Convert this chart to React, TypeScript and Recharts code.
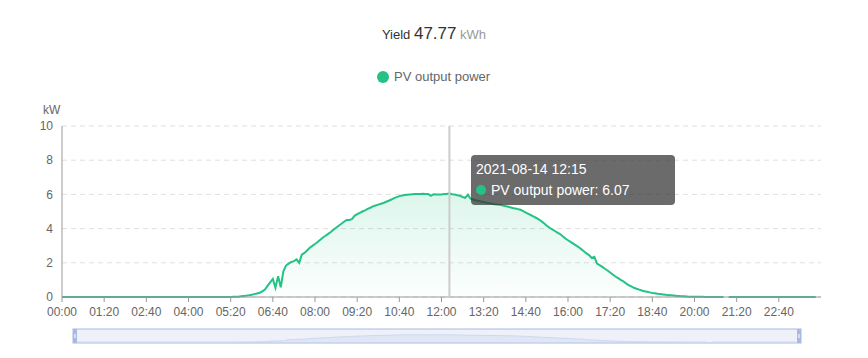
import { AreaChart, Area, XAxis, YAxis, CartesianGrid, Tooltip, Brush } from 'recharts'

const day = '2021-08-14'
const yieldKWh = 47.77
const seriesName = 'PV output power'
const stepMinutes = 5

// PV output power in kW, one row per hour, one value every 5 minutes (null = no sample)
const pvPower: (number | null)[] = [
  0, 0, 0, 0, 0, 0, 0, 0, 0, 0, 0, 0, // 00
  0, 0, 0, 0, 0, 0, 0, 0, 0, 0, 0, 0, // 01
  0, 0, 0, 0, 0, 0, 0, 0, 0, 0, 0, 0, // 02
  0, 0, 0, 0, 0, 0, 0, 0, 0, 0, 0, 0, // 03
  0, 0, 0, 0, 0, 0, 0, 0, 0, 0, 0, 0, // 04
  0, 0, 0, 0, 0, 0.01, 0.01, 0.02, 0.04, 0.06, 0.08, 0.1, // 05
  0.13, 0.17, 0.21, 0.25, 0.33, 0.44, 0.65, 0.85, 1.06, 0.54, 1.22, 0.57, // 06
  1.5, 1.84, 1.95, 2.05, 2.1, 2.2, 2.0, 2.48, 2.58, 2.72, 2.88, 2.99, // 07
  3.1, 3.22, 3.35, 3.48, 3.58, 3.69, 3.8, 3.93, 4.05, 4.17, 4.28, 4.4, // 08
  4.5, 4.5, 4.55, 4.75, 4.84, 4.92, 5.0, 5.07, 5.15, 5.22, 5.3, 5.35, // 09
  5.4, 5.45, 5.5, 5.57, 5.63, 5.7, 5.78, 5.84, 5.9, 5.93, 5.96, 5.98, // 10
  6.0, 6.01, 6.02, 6.03, 6.03, 6.04, 6.03, 6.02, 5.92, 6.01, 6.0, 6.0, // 11
  5.99, 6.02, 6.02, 6.07, 6.01, 5.99, 5.95, 5.92, 5.85, 5.8, 5.98, 5.75, // 12
  5.7, 5.66, 5.62, 5.58, 5.55, 5.52, 5.49, 5.46, 5.43, 5.41, 5.4, 5.36, // 13
  5.32, 5.29, 5.25, 5.21, 5.18, 5.14, 5.1, 5.02, 4.94, 4.86, 4.78, 4.7, // 14
  4.62, 4.53, 4.42, 4.3, 4.17, 4.05, 3.95, 3.86, 3.77, 3.68, 3.55, 3.42, // 15
  3.32, 3.22, 3.12, 3.02, 2.92, 2.8, 2.68, 2.55, 2.45, 2.28, 2.35, 1.95, // 16
  1.86, 1.76, 1.65, 1.55, 1.43, 1.32, 1.2, 1.1, 1.0, 0.92, 0.8, 0.7, // 17
  0.62, 0.54, 0.48, 0.43, 0.38, 0.34, 0.31, 0.27, 0.24, 0.22, 0.19, 0.17, // 18
  0.15, 0.13, 0.11, 0.1, 0.09, 0.07, 0.06, 0.05, 0.04, 0.03, 0.02, 0.02, // 19
  0.01, 0.01, 0.01, 0.01, 0, 0, 0, 0, 0, 0, 0, 0, // 20
  null, 0, 0, 0, 0, 0, 0, 0, 0, 0, 0, 0, // 21
  0, 0, 0, 0, 0, 0, 0, 0, 0, 0, 0, 0, // 22
  0, 0, 0, 0, 0, 0, 0, 0, 0, 0, 0, null, // 23
]

const tickLabels = [
  '00:00', '01:20', '02:40', '04:00', '05:20', '06:40', '08:00', '09:20', '10:40',
  '12:00', '13:20', '14:40', '16:00', '17:20', '18:40', '20:00', '21:20', '22:40',
]
const yTicks = [0, 2, 4, 6, 8, 10]
const tooltipTime = '12:15'

const green = '#23c285'
const font = '"Liberation Sans", Arial, sans-serif'

const toMinutes = (s: string) => {
  const [h, m] = s.split(':').map(Number)
  return h * 60 + m
}
const fmt = (m: number) =>
  `${String(Math.floor(m / 60)).padStart(2, '0')}:${String(m % 60).padStart(2, '0')}`

const data = pvPower.map((v, i) => ({ t: i * stepMinutes, v }))
const tickMinutes = tickLabels.map(toMinutes)
const activeIndex = data.findIndex((d) => d.t === toMinutes(tooltipTime))

function TipBox({ payload }: any) {
  const p = payload && payload[0] ? payload[0].payload : data[activeIndex]
  return (
    <div
      style={{
        background: 'rgba(50,50,50,0.72)',
        color: '#fff',
        borderRadius: 4,
        padding: '4px 8px 4px 5px',
        fontFamily: font,
        fontSize: 14,
        lineHeight: '21px',
        whiteSpace: 'nowrap',
        width: 191,
      }}
    >
      <div>{`${day} ${fmt(p.t)}`}</div>
      <div>
        <span
          style={{
            display: 'inline-block',
            width: 10,
            height: 10,
            borderRadius: 5,
            background: green,
            marginRight: 5,
          }}
        />
        {`${seriesName}: ${p.v}`}
      </div>
    </div>
  )
}

export default function App() {
  return (
    <div style={{ position: 'absolute', left: 0, top: 0, width: 868, height: 358, background: '#fff', fontFamily: font }}>
      <div style={{ position: 'absolute', top: 24, left: 0, width: 868, textAlign: 'center', color: '#333' }}>
        <span style={{ fontSize: 13 }}>Yield </span>
        <span style={{ fontSize: 17 }}>{yieldKWh}</span>
        <span style={{ fontSize: 13, color: '#999' }}> kWh</span>
      </div>
      <div style={{ position: 'absolute', top: 69, left: 377, display: 'flex', alignItems: 'center', color: '#666', fontSize: 13 }}>
        <span style={{ width: 12, height: 12, borderRadius: 6, background: green, display: 'inline-block', marginRight: 5 }} />
        {seriesName}
      </div>
      <div style={{ position: 'absolute', top: 103, left: 43, color: '#666', fontSize: 12 }}>kW</div>
      <AreaChart width={868} height={358} data={data} margin={{ top: 126, right: 47, bottom: 17, left: 22 }}>
        <defs>
          <linearGradient id="pvFill" x1="0" y1="0" x2="0" y2="1">
            <stop offset="0%" stopColor={green} stopOpacity={0.26} />
            <stop offset="100%" stopColor={green} stopOpacity={0.02} />
          </linearGradient>
        </defs>
        <CartesianGrid vertical={false} stroke="#e0e0e0" strokeDasharray="5 4" />
        <XAxis
          dataKey="t"
          type="number"
          domain={[0, 1440]}
          ticks={tickMinutes}
          tickFormatter={fmt}
          interval={0}
          height={30}
          tickSize={5}
          tickMargin={5}
          stroke="#999"
          tick={{ fill: '#666', fontSize: 12 }}
        />
        <YAxis
          domain={[0, 10]}
          ticks={yTicks}
          interval={0}
          width={40}
          tickSize={0}
          tickMargin={9}
          stroke="#999"
          tick={{ fill: '#666', fontSize: 12 }}
        />
        <Tooltip
          defaultIndex={activeIndex}
          active
          content={<TipBox />}
          position={{ x: 471, y: 155 }}
          cursor={{ stroke: '#ccc', strokeWidth: 2 }}
          isAnimationActive={false}
        />
        <Area
          type="linear"
          dataKey="v"
          name={seriesName}
          stroke={green}
          strokeWidth={2}
          fill="url(#pvFill)"
          dot={false}
          activeDot={false}
          isAnimationActive={false}
        />
        <Brush
          dataKey="t"
          x={73}
          y={329}
          width={728}
          height={14}
          travellerWidth={4}
          stroke="#a9b9e2"
          fill="#fff"
          tickFormatter={fmt}
        >
          <AreaChart data={data}>
            <Area
              type="linear"
              dataKey="v"
              stroke="#d8e0f1"
              fill="#e3e9f6"
              fillOpacity={0.6}
              dot={false}
              activeDot={false}
              isAnimationActive={false}
            />
          </AreaChart>
        </Brush>
      </AreaChart>
    </div>
  )
}
